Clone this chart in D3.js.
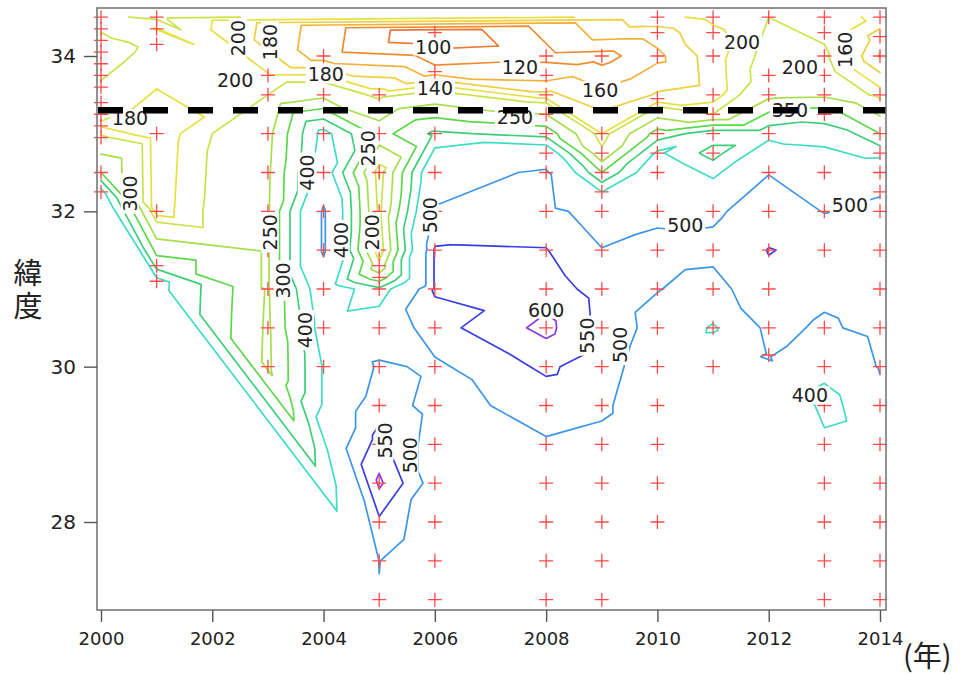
<!DOCTYPE html>
<html>
<head>
<meta charset="utf-8">
<script src="https://cdn.jsdelivr.net/npm/d3@7"></script>
<style>
  body { margin: 0; background: #fff; }
  svg { display: block; }
</style>
</head>
<body>
<svg id="chart" width="965" height="675"></svg>
<script>
// Sampling stations: one list of latitudes (and measured values) per year.
const sampleYears = [2000, 2001, 2003, 2004, 2005, 2006, 2008, 2009, 2010, 2011, 2012, 2013, 2014];

const sampleLats = [
  [34.5, 34.35, 34.2, 34.05, 33.9, 33.75, 33.6, 33.4, 33.25, 33.1, 32.95, 32.5, 32.25],
  [34.5, 34.35, 34.15, 33.0, 32.0, 31.3, 31.1],
  [33.75, 33.5, 33.0, 32.5, 32.0, 31.5, 31.0, 30.5, 30.0],
  [34.0, 33.5, 33.0, 32.5, 32.0, 31.5, 31.0, 30.5, 30.0],
  [33.5, 33.0, 32.5, 32.0, 31.5, 31.3, 31.15, 31.0, 30.5, 30.0, 29.5, 29.0, 28.5, 28.0, 27.5, 27.0],
  [34.3, 33.8, 33.0, 32.5, 32.0, 31.5, 31.0, 30.5, 30.0, 29.5, 29.0, 28.5, 28.0, 27.5, 27.0],
  [34.0, 33.75, 33.5, 33.25, 33.0, 32.75, 32.5, 32.0, 31.5, 31.0, 30.5, 30.0, 29.5, 29.0, 28.5, 28.0, 27.5, 27.0],
  [34.0, 33.0, 32.75, 32.5, 32.25, 32.0, 31.5, 31.0, 30.5, 30.0, 29.5, 29.0, 28.5, 28.0, 27.5, 27.0],
  [34.5, 34.3, 34.0, 33.45, 33.0, 32.75, 32.5, 32.0, 31.5, 31.0, 30.5, 30.0, 29.5, 29.0, 28.5, 28.0],
  [34.5, 34.3, 34.0, 33.5, 33.25, 33.0, 32.75, 32.0, 31.5, 31.0, 30.5, 30.0],
  [34.5, 33.75, 33.5, 33.0, 32.5, 32.0, 31.5, 31.0, 30.5, 30.15],
  [34.5, 34.3, 34.0, 33.75, 33.5, 33.25, 32.5, 32.0, 31.5, 30.5, 30.0, 29.5, 29.0, 28.5, 28.0, 27.5, 27.0],
  [34.5, 34.25, 34.0, 33.5, 33.0, 32.75, 32.5, 32.25, 32.0, 31.5, 31.0, 30.5, 30.0, 29.5, 29.0, 28.5, 28.0, 27.5, 27.0]
];

const sampleValues = [
  [195, 198, 205, 210, 208, 203, 196, 192, 183, 178, 205, 300, 420],
  [205, 179, 195, 165, 168, 330, 420],
  [182, 200, 235, 242, 245, 245, 245, 242, 240],
  [128, 235, 420, 440, 510, 510, 450, 430, 405],
  [190, 280, 178, 190, 170, 215, 270, 360, 450, 510, 530, 570, 610, 540, 501, 498],
  [80, 128, 360, 470, 505, 555, 555, 530, 490, 480, 470, 470, 460, 450, 440],
  [115, 130, 165, 250, 330, 450, 510, 520, 552, 575, 615, 560, 520, 495, 470, 460, 450, 440],
  [112, 180, 210, 300, 400, 470, 502, 530, 535, 520, 510, 485, 470, 460, 450, 440],
  [175, 150, 135, 165, 320, 410, 460, 485, 520, 502, 480, 470, 460, 460, 460, 460],
  [185, 175, 170, 168, 200, 380, 330, 490, 515, 480, 390, 470],
  [200, 215, 235, 380, 498, 530, 551.5, 540, 520, 505],
  [190, 195, 205, 215, 240, 330, 455, 498, 540, 490, 430, 360, 430, 450, 450, 450, 450],
  [175, 150, 138, 190, 300, 380, 460, 495, 515, 540, 530, 520, 505, 480, 460, 450, 450, 450, 450]
];

// Contour levels and their line colours
const levels = [100, 120, 140, 160, 180, 200, 250, 300, 350, 400, 500, 550, 600];
const levelColors = ["#ee7733", "#f08c30", "#f2b23a", "#eecf40", "#e6e040", "#cce24a", "#a6df4c",
                     "#5cd84a", "#3ccf78", "#3fdcc4", "#3c96e8", "#3a3ee2", "#8a3ae0"];

// Inline contour labels: value, anchor (year, latitude), rotation
const contourLabels = [
  {t: "200", year: 2002.41, lat: 33.69, r: 0},
  {t: "200", year: 2002.46, lat: 34.23, r: -90},
  {t: "180", year: 2003.04, lat: 34.18, r: -90},
  {t: "180", year: 2004.04, lat: 33.76, r: 0},
  {t: "180", year: 2000.52, lat: 33.20, r: 0},
  {t: "100", year: 2005.97, lat: 34.12, r: 0},
  {t: "120", year: 2007.53, lat: 33.85, r: 0},
  {t: "140", year: 2006.00, lat: 33.59, r: 0},
  {t: "160", year: 2008.97, lat: 33.56, r: 0},
  {t: "250", year: 2007.44, lat: 33.21, r: 0},
  {t: "200", year: 2011.52, lat: 34.18, r: 0},
  {t: "200", year: 2012.56, lat: 33.86, r: 0},
  {t: "350", year: 2012.38, lat: 33.30, r: 0},
  {t: "160", year: 2013.37, lat: 34.08, r: -90},
  {t: "300", year: 2000.52, lat: 32.23, r: -90},
  {t: "250", year: 2003.04, lat: 31.73, r: -90},
  {t: "400", year: 2003.70, lat: 32.50, r: -90},
  {t: "250", year: 2004.80, lat: 32.81, r: -90},
  {t: "400", year: 2004.31, lat: 31.63, r: -90},
  {t: "200", year: 2004.87, lat: 31.73, r: -90},
  {t: "300", year: 2003.27, lat: 31.11, r: -90},
  {t: "400", year: 2003.67, lat: 30.47, r: -90},
  {t: "500", year: 2005.91, lat: 31.95, r: -90},
  {t: "600", year: 2008.00, lat: 30.73, r: 0},
  {t: "550", year: 2008.73, lat: 30.40, r: -90},
  {t: "500", year: 2009.33, lat: 30.28, r: -90},
  {t: "500", year: 2010.50, lat: 31.82, r: 0},
  {t: "500", year: 2013.46, lat: 32.08, r: 0},
  {t: "400", year: 2012.74, lat: 29.63, r: 0},
  {t: "550", year: 2005.10, lat: 29.05, r: -90},
  {t: "500", year: 2005.55, lat: 28.86, r: -90}
];

const xTicks = [2000, 2002, 2004, 2006, 2008, 2010, 2012, 2014];
const yTicks = [28, 30, 32, 34];
const boundaryLat = 33.3;

// ---- layout ----
const frame = {left: 97, right: 886, top: 8, bottom: 610};
const x = d3.scaleLinear().domain([2000, 2014]).range([101, 880]);
const y = d3.scaleLinear().domain([28, 34]).range([522, 56]);

const svg = d3.select("#chart");
svg.append("rect").attr("width", 965).attr("height", 675).attr("fill", "#fff");

// ---- contours by marching triangles over the Delaunay mesh of the stations ----
const pts = [];
sampleYears.forEach((yr, i) => {
  sampleLats[i].forEach((lat, j) => pts.push({year: yr, lat: lat, v: sampleValues[i][j]}));
});
const P = pts.map(d => [x(d.year), y(d.lat)]);
const delaunay = d3.Delaunay.from(P);
const tri = delaunay.triangles;

const gContours = svg.append("g").attr("fill", "none")
  .attr("stroke-width", 1.7).attr("stroke-linecap", "round").attr("stroke-linejoin", "round");

levels.forEach((L, li) => {
  const p = d3.path();
  for (let t = 0; t < tri.length; t += 3) {
    const ids = [tri[t], tri[t + 1], tri[t + 2]];
    const cr = [];
    for (let e = 0; e < 3; e++) {
      const a = ids[e], b = ids[(e + 1) % 3];
      const va = pts[a].v, vb = pts[b].v;
      if ((va >= L) !== (vb >= L)) {
        const f = (L - va) / (vb - va);
        cr.push([P[a][0] + f * (P[b][0] - P[a][0]), P[a][1] + f * (P[b][1] - P[a][1])]);
      }
    }
    if (cr.length === 2) { p.moveTo(cr[0][0], cr[0][1]); p.lineTo(cr[1][0], cr[1][1]); }
  }
  gContours.append("path").attr("d", p.toString()).attr("stroke", levelColors[li]);
});

// ---- station markers ----
svg.append("g").selectAll("path").data(pts).join("path")
  .attr("transform", d => `translate(${x(d.year)},${y(d.lat)})`)
  .attr("d", "M-7,0H7M0,-7V7")
  .attr("stroke", "#ff4a4a").attr("stroke-width", 1.3).attr("fill", "none");

// ---- contour labels ----
const gLab = svg.append("g");
contourLabels.forEach(d => {
  const g = gLab.append("g")
    .attr("transform", `translate(${x(d.year)},${y(d.lat)}) rotate(${d.r})`);
  const txt = g.append("text")
    .attr("text-anchor", "middle").attr("dy", "0.36em")
    .attr("font-family", "'DejaVu Sans', Verdana, sans-serif").attr("font-size", 19)
    .attr("fill", "#222").text(d.t);
  const bb = txt.node().getBBox();
  g.insert("rect", "text")
    .attr("x", bb.x - 2).attr("y", bb.y + 2).attr("width", bb.width + 4).attr("height", bb.height - 4)
    .attr("fill", "#fff");
});

// ---- dashed boundary latitude ----
svg.append("line")
  .attr("x1", frame.left + 1).attr("x2", frame.right)
  .attr("y1", y(boundaryLat)).attr("y2", y(boundaryLat))
  .attr("stroke", "#000").attr("stroke-width", 6.5).attr("stroke-dasharray", "25 20");

// ---- frame and axes ----
svg.append("rect")
  .attr("x", frame.left).attr("y", frame.top)
  .attr("width", frame.right - frame.left).attr("height", frame.bottom - frame.top)
  .attr("fill", "none").attr("stroke", "#777").attr("stroke-width", 1.6);

const xAxis = svg.append("g").attr("transform", `translate(0,${frame.bottom})`)
  .call(d3.axisBottom(x).tickValues(xTicks).tickSize(12).tickPadding(10).tickFormat(d3.format("d")));
const yAxis = svg.append("g").attr("transform", `translate(${frame.left},0)`)
  .call(d3.axisLeft(y).tickValues(yTicks).tickSize(13).tickPadding(8).tickFormat(d3.format("d")));
[xAxis, yAxis].forEach(a => {
  a.select(".domain").remove();
  a.selectAll(".tick line").attr("stroke", "#555").attr("stroke-width", 1.4);
  a.selectAll(".tick text").attr("fill", "#222")
    .attr("font-family", "'DejaVu Sans', Verdana, sans-serif");
});
xAxis.selectAll(".tick text").attr("font-size", 18);
yAxis.selectAll(".tick text").attr("font-size", 20);

// ---- axis titles ----
svg.append("text")
  .attr("x", 28).attr("y", 258)
  .style("writing-mode", "vertical-rl")
  .attr("letter-spacing", 4)
  .attr("font-family", "'Noto Sans CJK JP', sans-serif").attr("font-size", 29).attr("fill", "#222")
  .text("緯度");

svg.append("text")
  .attr("x", 903).attr("y", 667)
  .attr("font-family", "'Noto Sans CJK JP', sans-serif").attr("font-size", 29).attr("fill", "#222")
  .text("(年)");
</script>
</body>
</html>
